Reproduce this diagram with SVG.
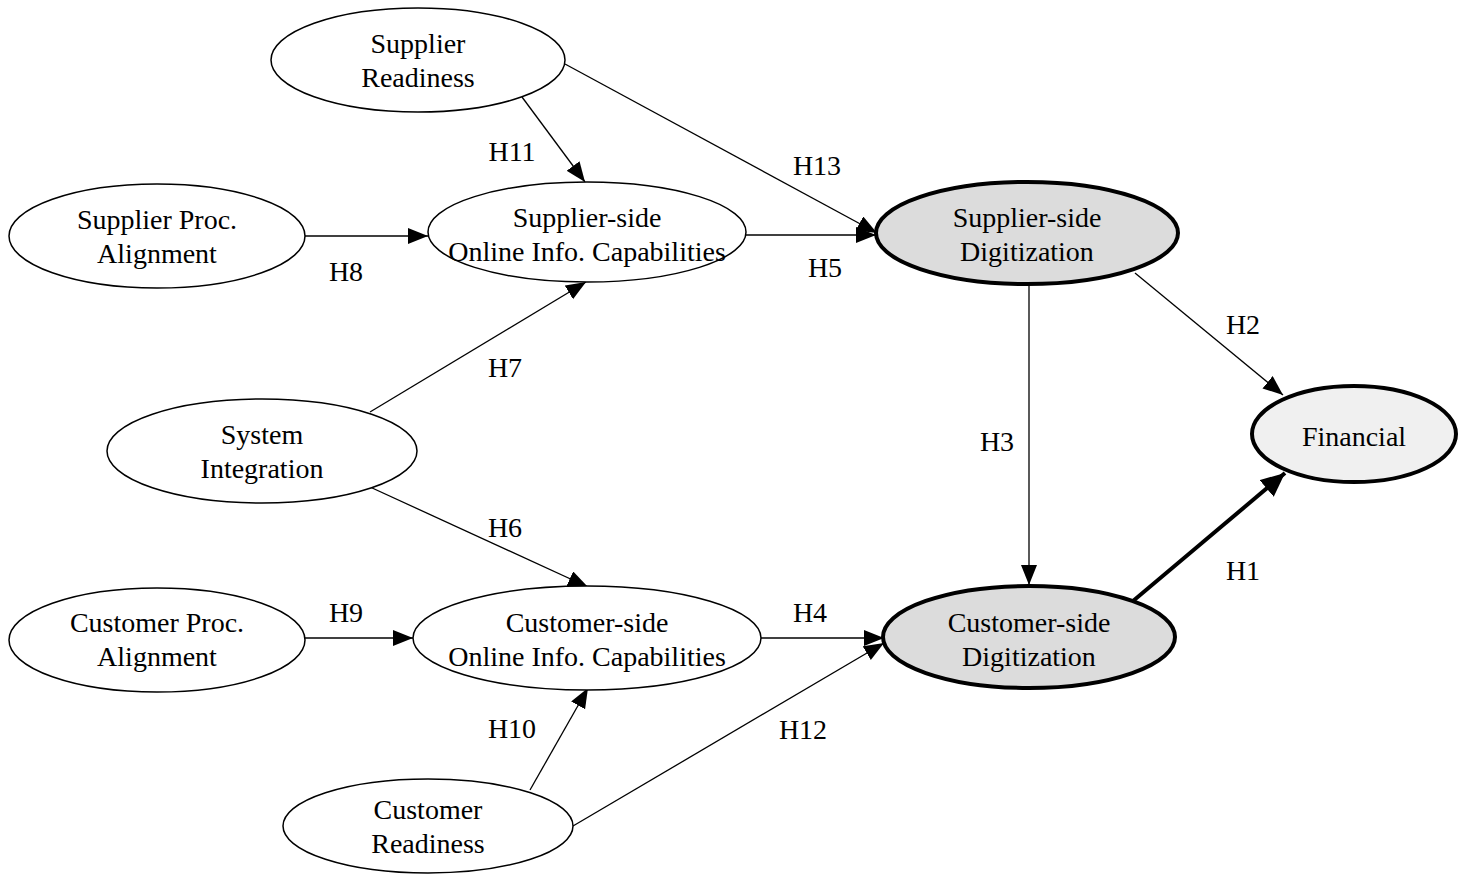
<svg xmlns="http://www.w3.org/2000/svg" width="1466" height="874" viewBox="0 0 1466 874">
<style>
text{font-family:"Liberation Serif","Times New Roman",serif;font-size:28px;fill:#000;text-anchor:middle}
.n{fill:#fff;stroke:#000;stroke-width:1.5}
.d{fill:#dcdcdc;stroke:#000;stroke-width:4}
.f{fill:#f0f0f0;stroke:#000;stroke-width:4}
.e{stroke:#000;stroke-width:1.3;fill:none;marker-end:url(#a)}
.t{stroke:#000;stroke-width:4;fill:none;marker-end:url(#b)}
</style>
<defs>
<marker id="a" markerUnits="userSpaceOnUse" markerWidth="24" markerHeight="18" refX="20" refY="8" orient="auto"><path d="M0,0 L20,8 L0,16 Z" fill="#000"/></marker>
<marker id="b" markerUnits="userSpaceOnUse" markerWidth="30" markerHeight="24" refX="24" refY="11" orient="auto"><path d="M0,0 L24,11 L0,22 Z" fill="#000"/></marker>
</defs>
<rect width="1466" height="874" fill="#fff"/>
<g id="edges">
<line class="e" x1="522" y1="97" x2="585" y2="182"/>
<line class="e" x1="565" y1="64" x2="877" y2="233"/>
<line class="e" x1="305" y1="236" x2="428" y2="236"/>
<line class="e" x1="745" y1="235" x2="876" y2="235"/>
<line class="e" x1="370" y1="412" x2="586" y2="282"/>
<line class="e" x1="370" y1="487" x2="588" y2="587"/>
<line class="e" x1="305" y1="638" x2="413" y2="638"/>
<line class="e" x1="760" y1="638" x2="884" y2="638"/>
<line class="e" x1="530" y1="790" x2="588" y2="688"/>
<line class="e" x1="573" y1="826" x2="884" y2="643"/>
<line class="e" x1="1029" y1="285" x2="1029" y2="585"/>
<line class="e" x1="1135" y1="273" x2="1283" y2="395"/>
<line class="t" x1="1133" y1="601" x2="1285" y2="473"/>
<text x="512" y="161">H11</text>
<text x="817" y="175">H13</text>
<text x="346" y="281">H8</text>
<text x="825" y="277">H5</text>
<text x="505" y="377">H7</text>
<text x="1243" y="334">H2</text>
<text x="997" y="451">H3</text>
<text x="505" y="537">H6</text>
<text x="1243" y="580">H1</text>
<text x="346" y="622">H9</text>
<text x="810" y="622">H4</text>
<text x="512" y="738">H10</text>
<text x="803" y="739">H12</text>
</g>
<g id="supplier-readiness"><ellipse class="n" cx="418" cy="60" rx="147" ry="52"/><text x="418" y="53">Supplier</text><text x="418" y="87">Readiness</text></g>
<g id="supplier-proc"><ellipse class="n" cx="157" cy="236" rx="148" ry="52"/><text x="157" y="229">Supplier Proc.</text><text x="157" y="263">Alignment</text></g>
<g id="supplier-online"><ellipse class="n" cx="587" cy="232" rx="159" ry="50"/><text x="587" y="227">Supplier-side</text><text x="587" y="261">Online Info. Capabilities</text></g>
<g id="supplier-dig"><ellipse class="d" cx="1027" cy="233" rx="151" ry="51"/><text x="1027" y="227">Supplier-side</text><text x="1027" y="261">Digitization</text></g>
<g id="financial"><ellipse class="f" cx="1354" cy="434" rx="102" ry="48"/><text x="1354" y="446">Financial</text></g>
<g id="system-integration"><ellipse class="n" cx="262" cy="451" rx="155" ry="52"/><text x="262" y="444">System</text><text x="262" y="478">Integration</text></g>
<g id="customer-proc"><ellipse class="n" cx="157" cy="640" rx="148" ry="52"/><text x="157" y="632">Customer Proc.</text><text x="157" y="666">Alignment</text></g>
<g id="customer-online"><ellipse class="n" cx="587" cy="638" rx="174" ry="52"/><text x="587" y="632">Customer-side</text><text x="587" y="666">Online Info. Capabilities</text></g>
<g id="customer-dig"><ellipse class="d" cx="1029" cy="637" rx="146" ry="51"/><text x="1029" y="632">Customer-side</text><text x="1029" y="666">Digitization</text></g>
<g id="customer-readiness"><ellipse class="n" cx="428" cy="826" rx="145" ry="47"/><text x="428" y="819">Customer</text><text x="428" y="853">Readiness</text></g>
</svg>
